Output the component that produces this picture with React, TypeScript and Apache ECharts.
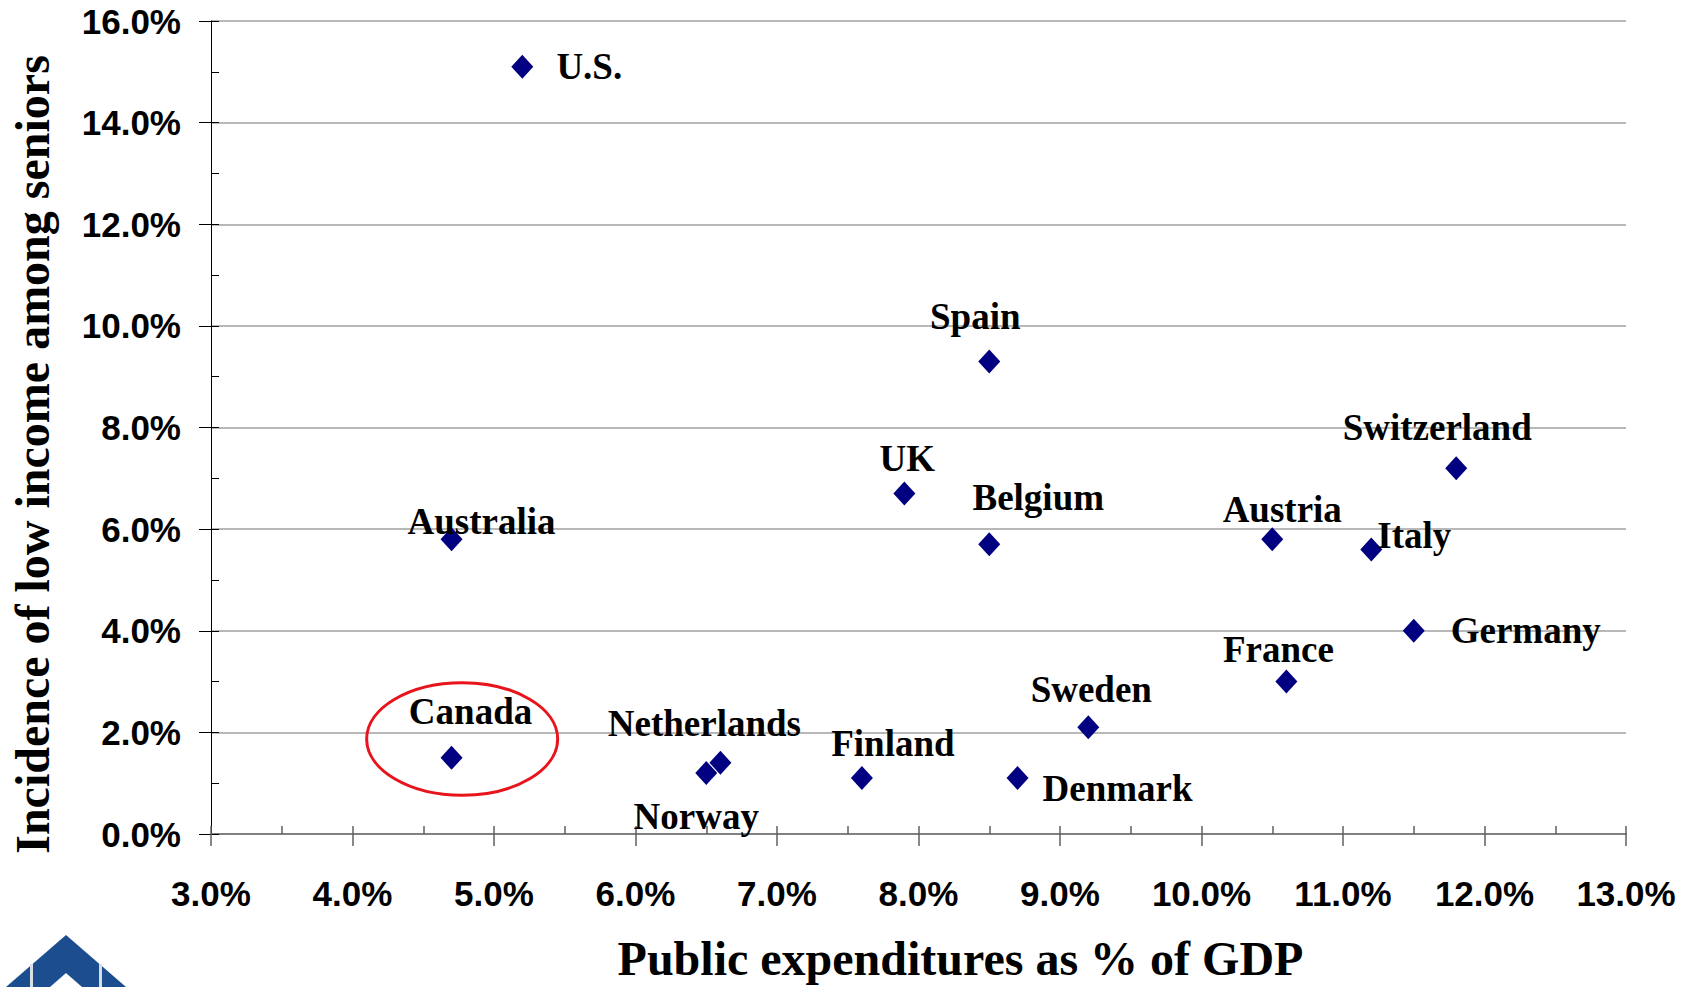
import React, { useEffect, useRef } from "react";
import * as echarts from "echarts";

const countries = ["U.S.", "Australia", "Canada", "Spain", "UK", "Belgium", "Austria", "Italy", "Switzerland", "Germany", "France", "Sweden", "Denmark", "Finland", "Netherlands", "Norway"];
const publicExpenditure = [5.2, 4.7, 4.7, 8.5, 7.9, 8.5, 10.5, 11.2, 11.8, 11.5, 10.6, 9.2, 8.7, 7.6, 6.6, 6.5];
const lowIncomeSeniors = [15.1, 5.8, 1.5, 9.3, 6.7, 5.7, 5.8, 5.6, 7.2, 4.0, 3.0, 2.1, 1.1, 1.1, 1.4, 1.2];

// label offsets (px) from each marker, for readability as in the original
const labelOffsets: Record<string, [number, number]> = {
  "U.S.": [67, 0],
  Australia: [30, -18],
  Canada: [19, -46],
  Spain: [-14, -45],
  UK: [3, -35],
  Belgium: [49, -47],
  Austria: [10, -30],
  Italy: [43, -14],
  Switzerland: [-19, -41],
  Germany: [112, 0],
  France: [-8, -32],
  Sweden: [3, -38],
  Denmark: [100, 10],
  Finland: [31, -35],
  Netherlands: [-16, -39],
  Norway: [-10, 43],
};

const xTitle = "Public expenditures as % of GDP";
const yTitle = "Incidence of low income among seniors";
const highlightCenter = [4.775, 1.87];
const highlightRadius = [0.675, 1.108];

const serif = "'Liberation Serif', 'Times New Roman', serif";
const sans = "'Liberation Sans', Arial, sans-serif";
const pct = (v: number) => v.toFixed(1) + "%";

export default function App() {
  const ref = useRef<HTMLDivElement>(null);
  useEffect(() => {
    document.body.style.margin = "0";
    const chart = echarts.init(ref.current!, null, { renderer: "svg" });
    const data = countries.map((c, i) => ({
      name: c,
      value: [publicExpenditure[i], lowIncomeSeniors[i]],
      label: { offset: labelOffsets[c] },
    }));
    const common = { min: 3, max: 13, interval: 1 };
    const ycommon = { min: 0, max: 16, interval: 2 };
    chart.setOption({
      animation: false,
      backgroundColor: "#ffffff",
      grid: { left: 210, right: 58, top: 21, bottom: 151, containLabel: false },
      xAxis: [
        {
          type: "value",
          ...common,
          position: "bottom",
          axisLine: { show: true, onZero: false, lineStyle: { color: "#808080", width: 2 } },
          axisTick: { show: true, inside: false, length: 12, lineStyle: { color: "#606060", width: 1.5 } },
          axisLabel: {
            formatter: pct,
            fontFamily: sans,
            fontWeight: "bold",
            fontSize: 35,
            color: "#000",
            margin: 42,
          },
          splitLine: { show: false },
          name: xTitle,
          nameLocation: "middle",
          nameGap: 100,
          nameTextStyle: { fontFamily: serif, fontWeight: "bold", fontSize: 48, color: "#000", padding: [0, 0, 0, 84] },
        },
        {
          type: "value",
          ...common,
          position: "bottom",
          axisLine: { show: false, onZero: false },
          axisTick: { show: true, inside: true, length: 8, lineStyle: { color: "#606060", width: 1.5 } },
          minorTick: { show: true, splitNumber: 2, length: 8, lineStyle: { color: "#606060", width: 1.5 } },
          axisLabel: { show: false },
          splitLine: { show: false },
        },
      ],
      yAxis: [
        {
          type: "value",
          ...ycommon,
          position: "left",
          axisLine: { show: true, onZero: false, lineStyle: { color: "#000", width: 1 } },
          axisTick: { show: true, inside: false, length: 12, lineStyle: { color: "#000", width: 1 } },
          axisLabel: {
            formatter: pct,
            fontFamily: sans,
            fontWeight: "bold",
            fontSize: 35,
            color: "#000",
            margin: 30,
          },
          splitLine: { show: true, lineStyle: { color: "#a0a0a0", width: 1.5 } },
          name: yTitle,
          nameLocation: "middle",
          nameRotate: 90,
          nameGap: 155,
          nameTextStyle: { fontFamily: serif, fontWeight: "bold", fontSize: 48, color: "#000", padding: [0, 54, 0, 0] },
        },
        {
          type: "value",
          ...ycommon,
          position: "left",
          axisLine: { show: false, onZero: false },
          axisTick: { show: true, inside: true, length: 8, lineStyle: { color: "#000", width: 1 } },
          minorTick: { show: true, splitNumber: 2, length: 8, lineStyle: { color: "#000", width: 1 } },
          axisLabel: { show: false },
          splitLine: { show: false },
        },
      ],
      series: [
        {
          type: "scatter",
          xAxisIndex: 0,
          yAxisIndex: 0,
          symbol: "diamond",
          symbolSize: [22, 24],
          itemStyle: { color: "#000080", opacity: 1 },
          data,
          label: {
            show: true,
            position: "inside",
            formatter: (p: any) => p.name,
            fontFamily: serif,
            fontWeight: "bold",
            fontSize: 37,
            color: "#000",
            align: "center",
            verticalAlign: "middle",
          },
          emphasis: { disabled: true },
        },
      ],
    });

    const c = chart.convertToPixel({ xAxisIndex: 0, yAxisIndex: 0 }, highlightCenter) as number[];
    const e = chart.convertToPixel({ xAxisIndex: 0, yAxisIndex: 0 }, [
      highlightCenter[0] + highlightRadius[0],
      highlightCenter[1] + highlightRadius[1],
    ]) as number[];
    const logoBlue = "#1b4d8f";
    chart.setOption({
      graphic: [
        {
          type: "ellipse",
          shape: { cx: c[0], cy: c[1], rx: Math.abs(e[0] - c[0]), ry: Math.abs(e[1] - c[1]) },
          style: { fill: "none", stroke: "#e8141c", lineWidth: 3 },
          z: 10,
        },
        {
          type: "polygon",
          shape: { points: [[66, 935], [126, 987], [6, 987]] },
          style: { fill: logoBlue },
        },
        {
          type: "polygon",
          shape: { points: [[66, 973], [82, 987], [50, 987]] },
          style: { fill: "#ffffff" },
        },
        { type: "rect", shape: { x: 30, y: 964, width: 3, height: 23 }, style: { fill: "#d8dde6" } },
        { type: "rect", shape: { x: 99, y: 964, width: 3, height: 23 }, style: { fill: "#d8dde6" } },
      ],
    });
    return () => chart.dispose();
  }, []);
  return <div ref={ref} style={{ width: 1684, height: 987 }} />;
}
